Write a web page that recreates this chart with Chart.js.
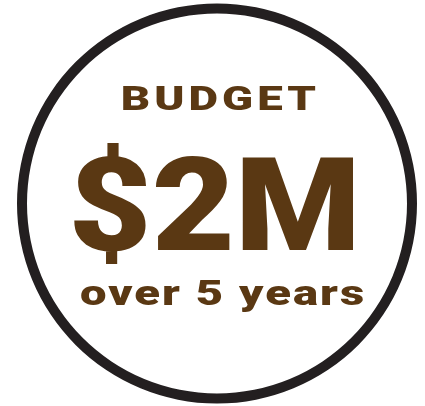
<!DOCTYPE html>
<html>
<head>
<meta charset="utf-8">
<script src="https://cdn.jsdelivr.net/npm/chart.js@4"></script>
<style>
  html, body { margin: 0; padding: 0; background: #ffffff; }
  #wrap { width: 425px; height: 406px; position: relative; }
</style>
</head>
<body>
<div id="wrap"><canvas id="c" width="425" height="406"></canvas></div>
<script>
// Data
const categories = ['Budget'];
const seriesValues = [1];
const textLines = ['BUDGET', '$2M', 'over 5 years'];

// Styles (target ink boxes)
const ringColor = '#231f20';
const textColor = '#5a3813';
const fontFamily = '900 {S}px Roboto, Inter, "DejaVu Sans", sans-serif';
const lineStyles = [
  { left: 122, right: 316, capTop: 86, base: 110, ls: 3 },
  { left: 74, right: 354, capTop: 157, base: 250, ls: 0 },
  { left: 80, right: 363, capTop: 280, base: 305, ls: 1.5 }
];

const centerText = {
  id: 'centerText',
  afterDraw(chart) {
    const ctx = chart.ctx;
    ctx.save();
    ctx.font = fontFamily.replace('{S}', 100);
    const capRatio = ctx.measureText('H').actualBoundingBoxAscent / 100;
    ctx.restore();
    textLines.forEach((t, i) => {
      const s = lineStyles[i];
      const size = (s.base - s.capTop) / capRatio;
      ctx.save();
      ctx.font = fontFamily.replace('{S}', size.toFixed(2));
      try { ctx.letterSpacing = s.ls + 'px'; } catch (e) {}
      ctx.textAlign = 'left';
      ctx.textBaseline = 'alphabetic';
      ctx.fillStyle = textColor;
      const m = ctx.measureText(t);
      const inkL = -m.actualBoundingBoxLeft;
      const inkR = m.actualBoundingBoxRight;
      const sx = (s.right - s.left) / (inkR - inkL);
      ctx.translate(s.left, s.base);
      ctx.scale(sx, 1);
      ctx.fillText(t, -inkL, 0);
      ctx.restore();
    });
  }
};

new Chart(document.getElementById('c'), {
  type: 'doughnut',
  data: {
    labels: categories,
    datasets: [{
      data: seriesValues,
      backgroundColor: [ringColor],
      borderWidth: 0
    }]
  },
  options: {
    responsive: false,
    animation: false,
    cutout: '95%',
    layout: { padding: { left: 17, right: 8, top: 3.5, bottom: 2.5 } },
    plugins: {
      legend: { display: false },
      tooltip: { enabled: false },
      title: { display: false }
    },
    events: []
  },
  plugins: [centerText]
});
</script>
</body>
</html>
